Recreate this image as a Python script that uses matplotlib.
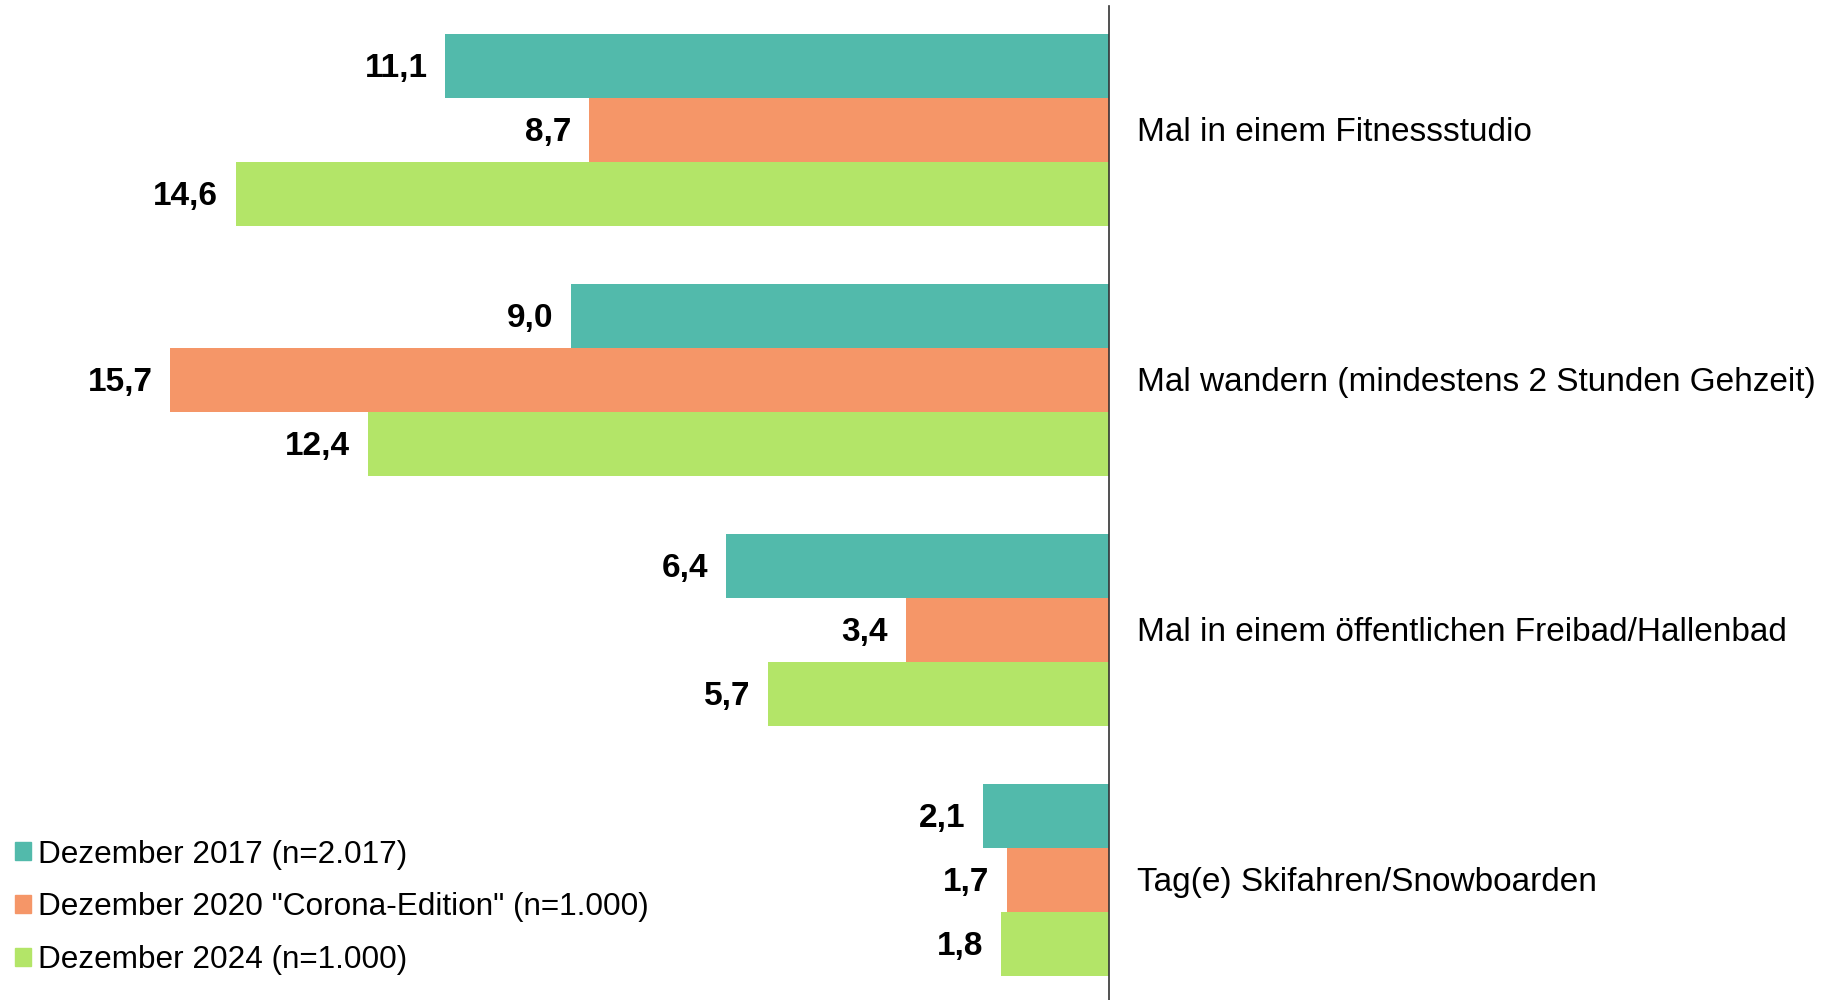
import numpy as np
import matplotlib.pyplot as plt
from matplotlib.patches import Patch

plt.rcParams['font.family'] = ['Liberation Sans', 'DejaVu Sans']

# data
categories = ['Mal in einem Fitnessstudio',
              'Mal wandern (mindestens 2 Stunden Gehzeit)',
              'Mal in einem öffentlichen Freibad/Hallenbad',
              'Tag(e) Skifahren/Snowboarden']
series = ['Dezember 2017 (n=2.017)',
          'Dezember 2020 "Corona-Edition" (n=1.000)',
          'Dezember 2024 (n=1.000)']
v2017 = [11.1, 9.0, 6.4, 2.1]
v2020 = [8.7, 15.7, 3.4, 1.7]
v2024 = [14.6, 12.4, 5.7, 1.8]
colors = ['#52BAAB', '#F59668', '#B3E568']

fig = plt.figure(figsize=(18.3, 10), dpi=100)
ax = fig.add_axes([0, 0, 1109 / 1830, 0.994])

y = np.arange(len(categories))
h = 0.256
for i, (vals, col) in enumerate(zip([v2017, v2020, v2024], colors)):
    pos = y + (i - 1) * h
    ax.barh(pos, vals, height=h, color=col, label=series[i])
    for p, v in zip(pos, vals):
        ax.text(v + 0.3, p + 0.01, f'{v:.1f}'.replace('.', ','), ha='right', va='center',
                fontsize=24, fontweight='bold', color='black')

ax.set_xlim(18.55, 0)
ax.set_ylim(3.48, -0.498)
for s in ['top', 'left', 'bottom']:
    ax.spines[s].set_visible(False)
ax.spines['right'].set_color('#333333')
ax.spines['right'].set_linewidth(1.2)
ax.set_xticks([])
ax.set_yticks([])

for yy, cat in zip(y, categories):
    ax.text(-0.47, yy + 0.01, cat, ha='left', va='center', fontsize=24, color='black',
            clip_on=False)

handles = [Patch(color=c) for c in colors]
fig.legend(handles, series, loc='lower left', bbox_to_anchor=(-0.004, 0.003),
           frameon=False, fontsize=22.7, handlelength=0.5, handleheight=0.5,
           handletextpad=0.25, labelspacing=0.72, borderaxespad=0.3)

fig.savefig('out.png', dpi=100)
